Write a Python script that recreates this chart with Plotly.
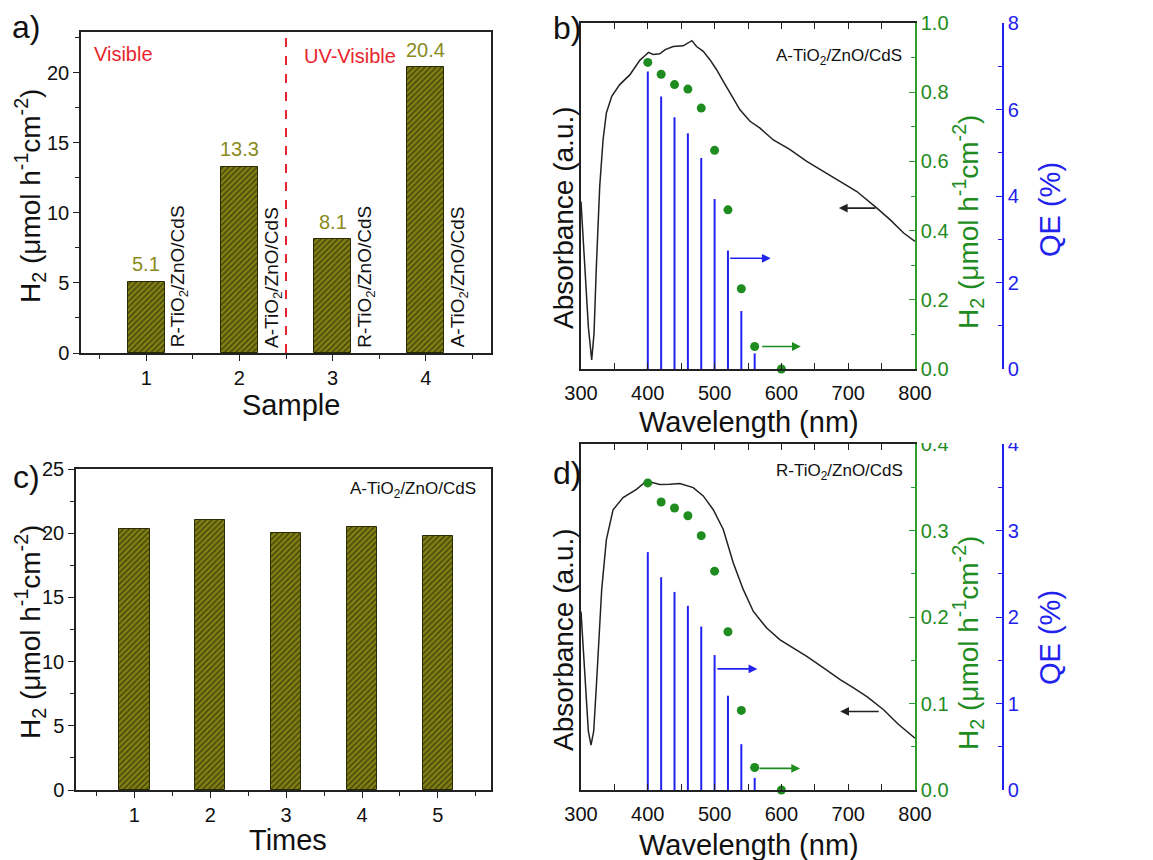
import plotly.graph_objects as go

W, H = 1153, 860
OFF = 8  # page body margin of the browser
FW, FH = W - OFF, H - OFF
FONT = "Liberation Sans, Arial, sans-serif"

# ---------------- data ----------------
# panel a
a_samples = [1, 2, 3, 4]
a_values = [5.1, 13.3, 8.1, 20.4]
a_names = ["R-TiO<sub>2</sub>/ZnO/CdS", "A-TiO<sub>2</sub>/ZnO/CdS",
           "R-TiO<sub>2</sub>/ZnO/CdS", "A-TiO<sub>2</sub>/ZnO/CdS"]

# panel c
c_times = [1, 2, 3, 4, 5]
c_values = [20.35, 21.0, 20.0, 20.5, 19.8]

# panel b (A-TiO2/ZnO/CdS)
b_wl = [300, 306, 311, 316, 319.5, 323, 328, 333, 338, 346, 358, 373, 388, 396, 401, 408,
        418, 426, 438, 453, 461, 466, 473, 483, 493, 503, 513, 523, 538, 553, 568, 588,
        613, 638, 663, 688, 713, 743, 763, 783, 800]
b_abs = [0.484, 0.296, 0.122, 0.026, 0.103, 0.296, 0.527, 0.662, 0.74, 0.788, 0.822, 0.85,
         0.892, 0.906, 0.915, 0.909, 0.911, 0.923, 0.932, 0.934, 0.942, 0.949, 0.932, 0.918,
         0.894, 0.865, 0.831, 0.797, 0.749, 0.716, 0.696, 0.662, 0.634, 0.60, 0.571, 0.542,
         0.513, 0.465, 0.431, 0.393, 0.369]
h2_wl = [400, 420, 440, 460, 480, 500, 520, 540, 560, 600]
b_h2 = [0.886, 0.852, 0.822, 0.809, 0.754, 0.632, 0.460, 0.232, 0.065, 0.0]
qe_wl = [400, 420, 440, 460, 480, 500, 520, 540, 560]
b_qe = [6.88, 6.30, 5.82, 5.45, 4.88, 3.93, 2.74, 1.34, 0.36]

# panel d (R-TiO2/ZnO/CdS)
d_wl = [300, 306, 311, 315, 319, 323, 327, 331, 338, 348, 363, 383, 398, 408, 418, 433,
        448, 468, 483, 498, 513, 528, 543, 558, 578, 598, 618, 638, 663, 688, 708, 728,
        753, 775, 800]
d_abs = [0.516, 0.33, 0.17, 0.130, 0.17, 0.30, 0.45, 0.58, 0.724, 0.81, 0.845, 0.869,
         0.893, 0.888, 0.883, 0.884, 0.886, 0.874, 0.85, 0.81, 0.753, 0.656, 0.579, 0.516,
         0.468, 0.434, 0.41, 0.386, 0.353, 0.319, 0.295, 0.27, 0.232, 0.19, 0.15]
d_h2 = [0.355, 0.333, 0.326, 0.317, 0.294, 0.253, 0.183, 0.092, 0.026, 0.0]
d_qe = [2.75, 2.46, 2.29, 2.13, 1.89, 1.56, 1.09, 0.53, 0.14]

# ---------------- helpers ----------------
def px_x(p):
    return (p - OFF) / FW

def px_y(p):
    return 1 - (p - OFF) / FH

BLACK = "#222222"
GREEN = "#1e8c1e"
GREEN_AX = "#2e9e2e"
BLUE = "#2222ee"
RED = "#e8242e"
OLIVE_TXT = "#8a8a1c"
BAR_BG = "#808014"
BAR_FG = "#42420a"

def stems(xs, ys):
    sx, sy = [], []
    for x, y in zip(xs, ys):
        sx += [x, x, None]
        sy += [0, y, None]
    return sx, sy

fig = go.Figure()

bar_marker = dict(color=BAR_BG, line=dict(color="#2a2a04", width=1),
                  pattern=dict(shape="/", fgcolor=BAR_FG, bgcolor=BAR_BG, size=4, solidity=0.35))

fig.add_trace(go.Bar(x=a_samples, y=a_values, width=0.4, marker=bar_marker,
                     xaxis="x", yaxis="y", showlegend=False))
fig.add_trace(go.Bar(x=c_times, y=c_values, width=0.4, marker=bar_marker,
                     xaxis="x3", yaxis="y5", showlegend=False))

fig.add_trace(go.Scatter(x=b_wl, y=b_abs, mode="lines", line=dict(color=BLACK, width=1.5),
                         xaxis="x2", yaxis="y2", showlegend=False))
sx, sy = stems(qe_wl, b_qe)
fig.add_trace(go.Scatter(x=sx, y=sy, mode="lines", line=dict(color=BLUE, width=2),
                         xaxis="x2", yaxis="y4", showlegend=False))
fig.add_trace(go.Scatter(x=h2_wl, y=b_h2, mode="markers", marker=dict(color=GREEN, size=9),
                         xaxis="x2", yaxis="y3", showlegend=False, cliponaxis=False))

fig.add_trace(go.Scatter(x=d_wl, y=d_abs, mode="lines", line=dict(color=BLACK, width=1.5),
                         xaxis="x4", yaxis="y6", showlegend=False))
sx, sy = stems(qe_wl, d_qe)
fig.add_trace(go.Scatter(x=sx, y=sy, mode="lines", line=dict(color=BLUE, width=2),
                         xaxis="x4", yaxis="y8", showlegend=False))
fig.add_trace(go.Scatter(x=h2_wl, y=d_h2, mode="markers", marker=dict(color=GREEN, size=9),
                         xaxis="x4", yaxis="y7", showlegend=False, cliponaxis=False))

TICK_SIZE = 20
tickfont = dict(family=FONT, size=TICK_SIZE, color="#111111")

dom_a_x = [px_x(81), px_x(491)]
dom_a_y = [px_y(353), px_y(32)]
dom_b_x = [px_x(581), px_x(915)]
dom_b_y = [px_y(369), px_y(23)]
dom_c_x = [px_x(76), px_x(491)]
dom_c_y = [px_y(790), px_y(469)]
dom_d_x = [px_x(581), px_x(915)]
dom_d_y = [px_y(790), px_y(444)]

def bar_x(dom, rng, minor, anchor):
    return dict(domain=dom, range=rng, dtick=1, tick0=0, ticks="outside", ticklen=6,
                tickcolor=BLACK, showline=True, linecolor=BLACK, linewidth=1.5, mirror=True,
                showgrid=False, zeroline=False, tickfont=tickfont, automargin=False,
                anchor=anchor,
                minor=dict(dtick=minor, tick0=0.5, ticks="outside", ticklen=4, tickcolor=BLACK))

def bar_y(dom, rng, anchor):
    return dict(domain=dom, range=rng, dtick=5, tick0=0, ticks="outside", ticklen=6,
                tickcolor=BLACK, showline=True, linecolor=BLACK, linewidth=1.5, mirror=True,
                showgrid=False, zeroline=False, tickfont=tickfont, anchor=anchor,
                automargin=False,
                minor=dict(dtick=2.5, ticks="outside", ticklen=4, tickcolor=BLACK))

def wl_x(dom, anchor):
    return dict(domain=dom, range=[300, 800], dtick=100, ticks="inside", ticklen=6,
                tickcolor=BLACK, showline=True, linecolor=BLACK, linewidth=1.5,
                mirror="allticks", showgrid=False, zeroline=False, tickfont=tickfont,
                anchor=anchor, ticklabelstandoff=5, automargin=False,
                minor=dict(dtick=50, ticks="inside", ticklen=4, tickcolor=BLACK))

def abs_y(dom, anchor):
    return dict(domain=dom, range=[0, 1], showticklabels=False, ticks="", showline=True,
                linecolor=BLACK, linewidth=1.5, showgrid=False, zeroline=False, anchor=anchor,
                automargin=False)

def green_y(over, anchor, rng, dt, mdt):
    return dict(overlaying=over, side="right", anchor=anchor, range=rng, dtick=dt,
                ticks="inside", ticklen=6, tickcolor=GREEN_AX, showline=True,
                linecolor=GREEN_AX, linewidth=1.5, showgrid=False, zeroline=False,
                tickformat=".1f", tickfont=dict(family=FONT, size=TICK_SIZE, color=GREEN),
                automargin=False,
                minor=dict(dtick=mdt, ticks="inside", ticklen=4, tickcolor=GREEN_AX))

def blue_y(over, rng, dt, mdt):
    return dict(overlaying=over, side="right", anchor="free", position=px_x(1003), range=rng,
                dtick=dt, ticks="inside", ticklen=6, tickcolor=BLUE, showline=True,
                linecolor=BLUE, linewidth=1.5, showgrid=False, zeroline=False,
                tickfont=dict(family=FONT, size=TICK_SIZE, color=BLUE), automargin=False,
                minor=dict(dtick=mdt, ticks="inside", ticklen=4, tickcolor=BLUE))

layout = dict(
    template="none",
    width=FW, height=FH, margin=dict(l=0, r=0, t=0, b=0, pad=0, autoexpand=False),
    paper_bgcolor="white", plot_bgcolor="white", showlegend=False,
    font=dict(family=FONT, color="#111111"),
    bargap=0,
    xaxis=bar_x(dom_a_x, [0.3, 4.7], 0.5, "y"),
    yaxis=bar_y(dom_a_y, [0, 22.9], "x"),
    xaxis2=wl_x(dom_b_x, "y2"),
    yaxis2=abs_y(dom_b_y, "x2"),
    yaxis3=green_y("y2", "x2", [0, 1], 0.2, 0.1),
    yaxis4=blue_y("y2", [0, 8], 2, 1),
    xaxis3=bar_x(dom_c_x, [0.23, 5.7], 0.5, "y5"),
    yaxis5=bar_y(dom_c_y, [0, 25], "x3"),
    xaxis4=wl_x(dom_d_x, "y6"),
    yaxis6=abs_y(dom_d_y, "x4"),
    yaxis7=green_y("y6", "x4", [0, 0.4], 0.1, 0.05),
    yaxis8=blue_y("y6", [0, 4], 1, 0.5),
)
fig.update_layout(**layout)

ann = []
def ptext(text, x, y, size, color="#111111", angle=0, xanchor="center", yanchor="middle"):
    ann.append(dict(text=text, x=px_x(x), y=px_y(y), xref="paper", yref="paper",
                    showarrow=False, textangle=angle, xanchor=xanchor, yanchor=yanchor,
                    font=dict(family=FONT, size=size, color=color)))

h2_title = "H<sub>2</sub> (μmol h<sup>-1</sup>cm<sup>-2</sup>)"

ptext("a)", 10, 27, 32, xanchor="left")
ptext("b)", 551, 28, 32, xanchor="left")
ptext("c)", 11, 477, 32, xanchor="left")
ptext("d)", 551, 473, 32, xanchor="left")

ptext(h2_title, 30, 196, 28, angle=-90)
ptext("Sample", 291, 405, 29)
ptext(h2_title, 30, 632, 28, angle=-90)
ptext("Times", 288, 840, 29)

ptext("Absorbance (a.u.)", 563, 218, 28, angle=-90)
ptext("Wavelength (nm)", 749, 422, 29)
ptext(h2_title, 968, 222, 28, color=GREEN, angle=-90)
ptext("QE (%)", 1050, 210, 29, color=BLUE, angle=-90)

ptext("Absorbance (a.u.)", 563, 640, 28, angle=-90)
ptext("Wavelength (nm)", 749, 845, 29)
ptext(h2_title, 968, 643, 28, color=GREEN, angle=-90)
ptext("QE (%)", 1050, 638, 29, color=BLUE, angle=-90)

ptext("A-TiO<sub>2</sub>/ZnO/CdS", 904, 57, 17, xanchor="right")
ptext("R-TiO<sub>2</sub>/ZnO/CdS", 905, 472, 17, xanchor="right")
ptext("A-TiO<sub>2</sub>/ZnO/CdS", 478, 490, 17, xanchor="right")

for xv, val, name in zip(a_samples, a_values, a_names):
    ann.append(dict(text=f"{val:.1f}", x=xv, y=val + 0.3, xref="x", yref="y",
                    showarrow=False, yanchor="bottom",
                    font=dict(family=FONT, size=20, color=OLIVE_TXT)))
    ann.append(dict(text=name, x=xv + 0.36, y=0.25, xref="x", yref="y", showarrow=False,
                    textangle=-90, xanchor="center", yanchor="bottom",
                    font=dict(family=FONT, size=19, color="#111111")))
ann.append(dict(text="Visible", x=0.42, y=21.3, xref="x", yref="y", showarrow=False,
                xanchor="left", font=dict(family=FONT, size=20, color=RED)))
ann.append(dict(text="UV-Visible", x=2.67, y=21.2, xref="x", yref="y", showarrow=False,
                xanchor="left", font=dict(family=FONT, size=20, color=RED)))

def arrow(x0, x1, y, xref, yref, color):
    ann.append(dict(x=x1, y=y, ax=x0, ay=y, xref=xref, yref=yref, axref=xref, ayref=yref,
                    showarrow=True, arrowhead=2, arrowsize=1.1, arrowwidth=1.6,
                    arrowcolor=color, text=""))

arrow(743, 686, 0.465, "x2", "y2", BLACK)
arrow(521, 584, 2.56, "x2", "y4", BLUE)
arrow(569, 629, 0.065, "x2", "y3", GREEN)
arrow(748, 688, 0.227, "x4", "y6", BLACK)
arrow(502, 564, 1.4, "x4", "y8", BLUE)
arrow(565, 628, 0.025, "x4", "y7", GREEN)

fig.update_layout(annotations=ann)

shapes = [
    dict(type="line", x0=2.5, x1=2.5, y0=0, y1=1, xref="x", yref="y domain",
         line=dict(color=RED, width=2, dash="dash")),
    dict(type="rect", x0=px_x(917), x1=1, y0=px_y(443), y1=px_y(405), xref="paper",
         yref="paper", fillcolor="white", line=dict(width=0), layer="above"),
]
fig.update_layout(shapes=shapes)

fig.write_html("out.html")
